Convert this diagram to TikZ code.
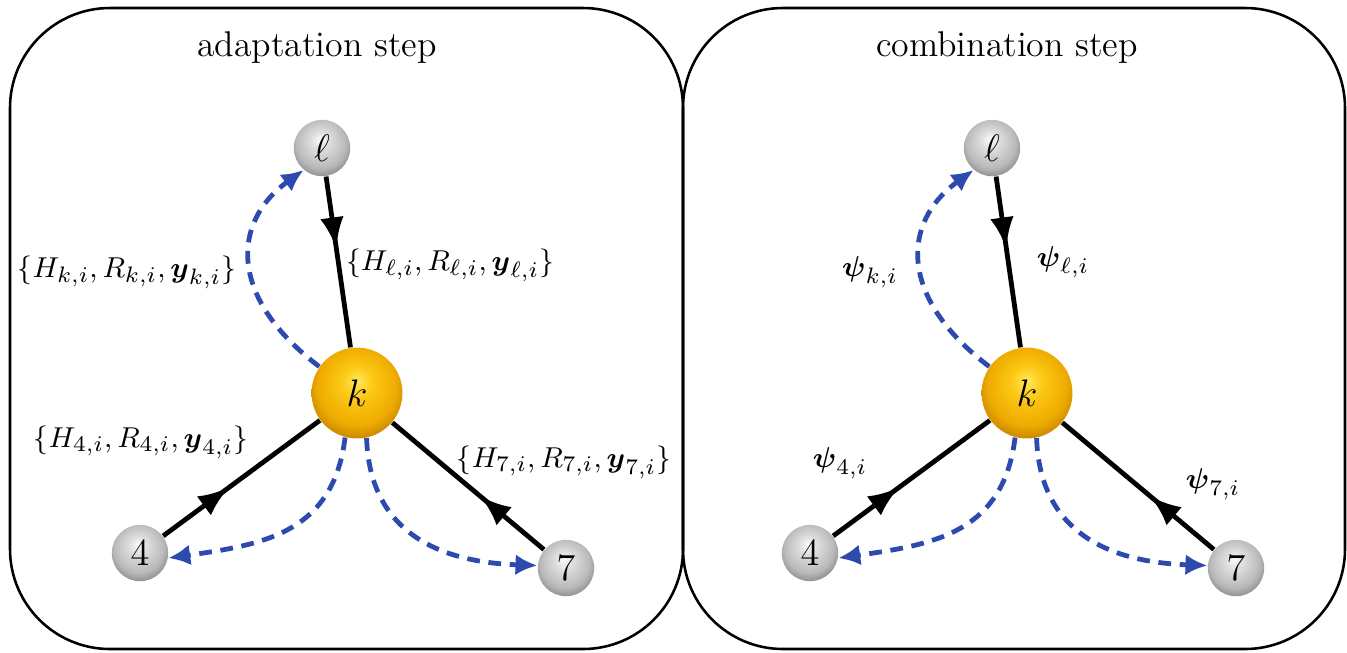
\documentclass[tikz,border=0pt]{standalone}
\usepackage{amsmath}
\usetikzlibrary{arrows.meta,decorations.markings}

\definecolor{dashblue}{RGB}{45,75,175}
\definecolor{gA}{RGB}{250,250,250}
\definecolor{gB}{RGB}{222,222,222}
\definecolor{gC}{RGB}{185,185,185}
\definecolor{gD}{RGB}{130,130,130}
\definecolor{yA}{RGB}{255,232,90}
\definecolor{yB}{RGB}{252,200,20}
\definecolor{yC}{RGB}{238,170,0}
\definecolor{yD}{RGB}{185,120,0}

\pgfdeclareradialshading{greyball}{\pgfpoint{-2bp}{8bp}}{color(0bp)=(gA);
  color(8bp)=(gB); color(22bp)=(gC); color(31bp)=(gD); color(50bp)=(gD)}
\pgfdeclareradialshading{goldball}{\pgfpoint{0bp}{7bp}}{color(0bp)=(yA);
  color(9bp)=(yB); color(22bp)=(yC); color(31bp)=(yD); color(50bp)=(yD)}

\tikzset{
  panel/.style={draw,line width=0.8pt,rounded corners=1.1cm},
  agent/.style={circle,shading=greyball,minimum size=0.62cm,inner sep=0pt,
    font=\fontsize{11.5}{13}\selectfont},
  center/.style={circle,shading=goldball,minimum size=1cm,inner sep=0pt,
    font=\fontsize{11.5}{13}\selectfont},
  link/.style={line width=1.5pt,postaction={decorate},
    decoration={markings,mark=at position 0.42 with {\arrow{Latex[length=3.4mm,width=2.6mm]}}}},
  share/.style={dashblue,line width=1.5pt,dash pattern=on 4pt off 2.7pt,
    -{Latex[length=2.4mm,width=2.3mm]}},
  lbl/.style={font=\fontsize{9.4}{11}\selectfont}
}

\begin{document}
\begin{tikzpicture}[x=0.011cm,y=-0.011cm]
  \useasboundingbox (0,0) rectangle (1347,652);
  \draw[panel] (10,8) rectangle (683,649);
  \draw[panel] (683,8) rectangle (1345,649);
  \node[font=\fontsize{11.2}{13}\selectfont] at (317,48) {adaptation step};
  \node[font=\fontsize{11.2}{13}\selectfont] at (1007,48) {combination step};

  % the same small network in both panels
  \foreach \p/\dx in {a/0,c/670}{
    \begin{scope}[xshift=\dx*0.011cm]
      \node[center] (\p k) at (357,393) {$k$};
      \node[agent] (\p l) at (322,148) {$\ell$};
      \node[agent] (\p 4) at (140,553) {$4$};
      \node[agent] (\p 7) at (566,568) {$7$};
      \draw[link] (\p l) -- (\p k);
      \draw[link] (\p 4) -- (\p k);
      \draw[link] (\p 7) -- (\p k);
      \draw[share] (\p k.145) .. controls +(-90,-68) and +(-73,53) .. (\p l.230);
      \draw[share] (\p k.255) to[out=-97,in=8,looseness=1.15] (\p 4.-10);
      \draw[share] (\p k.282) to[out=-88,in=178,looseness=1.15] (\p 7.175);
    \end{scope}
  }

  % exchanged data
  \node[lbl] at (127,272) {$\{H_{k,i},R_{k,i},\boldsymbol{y}_{k,i}\}$};
  \node[lbl] at (450,265) {$\{H_{\ell,i},R_{\ell,i},\boldsymbol{y}_{\ell,i}\}$};
  \node[lbl] at (141,442) {$\{H_{4,i},R_{4,i},\boldsymbol{y}_{4,i}\}$};
  \node[lbl] at (564,462) {$\{H_{7,i},R_{7,i},\boldsymbol{y}_{7,i}\}$};
  \node[lbl] at (870,272) {$\boldsymbol{\psi}_{k,i}$};
  \node[lbl] at (1063,262) {$\boldsymbol{\psi}_{\ell,i}$};
  \node[lbl] at (840,463) {$\boldsymbol{\psi}_{4,i}$};
  \node[lbl] at (1213,484) {$\boldsymbol{\psi}_{7,i}$};
\end{tikzpicture}
\end{document}
